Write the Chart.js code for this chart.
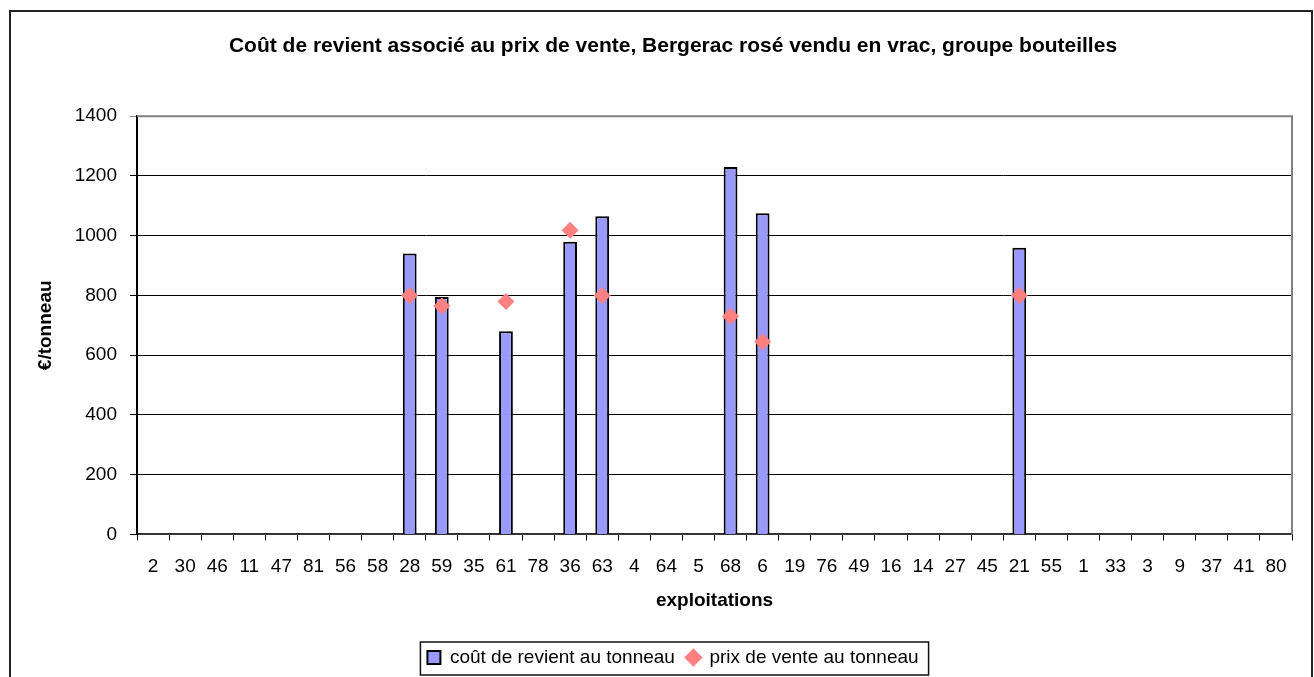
<!DOCTYPE html>
<html>
<head>
<meta charset="utf-8">
<script src="https://cdn.jsdelivr.net/npm/chart.js@4.4.1/dist/chart.umd.min.js"></script>
<style>
  html, body { margin: 0; padding: 0; background: #fff; }
  #wrap { width: 1314px; height: 677px; position: relative; }
</style>
</head>
<body>
<div id="wrap"><canvas id="c" width="1314" height="677"></canvas></div>
<script>
"use strict";
// Bergerac rosé en vrac: cost price vs selling price per tonneau, by farm.

const exploitations = ["2", "30", "46", "11", "47", "81", "56", "58", "28", "59", "35", "61", "78", "36", "63", "4", "64", "5",
  "68", "6", "19", "76", "49", "16", "14", "27", "45", "21", "55", "1", "33", "3", "9", "37", "41", "80"];

// null = no value for that farm
const coutRevient = [null, null, null, null, null, null, null, null, 940, 795, null, 680, null, 980, 1065, null, null, null,
  1230, 1075, null, null, null, null, null, null, null, 960, null, null, null, null, null, null, null, null];
const prixVente = [null, null, null, null, null, null, null, null, 800, 765, null, 780, null, 1018, 800, null, null, null,
  730, 645, null, null, null, null, null, null, null, 800, null, null, null, null, null, null, null, null];

const yTicks = [0, 200, 400, 600, 800, 1000, 1200, 1400];

const FONT = "'Liberation Sans', Arial, Helvetica, sans-serif";

// outer frame + grey top/right plot border + box round the legend
const frame = {
  id: "frame",
  afterDraw(chart) {
    const { ctx, chartArea: a } = chart;
    ctx.save();
    ctx.strokeStyle = "#808080";
    ctx.lineWidth = 2;
    ctx.beginPath();
    ctx.moveTo(a.left, a.top); ctx.lineTo(a.right, a.top); ctx.lineTo(a.right, a.bottom);
    ctx.stroke();
    ctx.strokeStyle = "#222";
    ctx.lineWidth = 2;
    ctx.strokeRect(10, 11, 1302, 700);
    const hb = chart.legend.legendHitBoxes;
    if (hb && hb.length) {
      const l = Math.min(...hb.map(h => h.left)) - 7;
      const r = Math.max(...hb.map(h => h.left + h.width)) + 10;
      const t = Math.min(...hb.map(h => h.top)) - 6;
      const b = Math.max(...hb.map(h => h.top + h.height)) + 8;
      ctx.strokeStyle = "#111";
      ctx.lineWidth = 1.5;
      ctx.strokeRect(l, t, r - l, b - t);
    }
    ctx.restore();
  },
};

new Chart(document.getElementById("c"), {
  data: {
    labels: exploitations,
    datasets: [
      {
        type: "bar", label: "coût de revient au tonneau", data: coutRevient,
        backgroundColor: "#9999FF", borderColor: "#000", borderWidth: 2,
        barPercentage: 0.43, categoryPercentage: 1, order: 2,
      },
      {
        type: "line", label: "prix de vente au tonneau", data: prixVente,
        showLine: false, pointStyle: "rectRot", pointRadius: 8.5,
        backgroundColor: "#FF8080", borderColor: "#FF8080", borderWidth: 0, order: 1,
      },
    ],
  },
  options: {
    responsive: false, animation: false,
    layout: { padding: { left: 54, right: 22, top: 0, bottom: 0 } },
    scales: {
      x: {
        offset: true,
        grid: { offset: true, drawOnChartArea: false, drawTicks: true, tickLength: 6, color: "#000" },
        border: { color: "#333", width: 2 },
        ticks: { color: "#000", font: { family: FONT, size: 19 }, padding: 15, maxRotation: 0, autoSkip: false },
        title: { display: true, text: "exploitations", color: "#000", font: { family: FONT, size: 19, weight: "bold" }, padding: { top: -4, bottom: 24 } },
      },
      y: {
        min: 0, max: 1400,
        afterBuildTicks: (s) => { s.ticks = yTicks.map(v => ({ value: v })); },
        afterFit: (s) => { s.width = 83; },
        grid: { color: (c) => c.tick.value === 1400 ? "#808080" : "#000", lineWidth: 1, tickLength: 7 },
        border: { color: "#000", width: 2 },
        ticks: { color: "#000", font: { family: FONT, size: 19 }, padding: 13, callback: (v) => String(v) },
        title: { display: true, text: "€/tonneau", color: "#000", font: { family: FONT, size: 19, weight: "bold" }, padding: { top: -20, bottom: 0 } },
      },
    },
    plugins: {
      title: {
        display: true,
        text: "Coût de revient associé au prix de vente, Bergerac rosé vendu en vrac, groupe bouteilles",
        color: "#000", font: { family: FONT, size: 21, weight: "bold" },
        padding: { top: 34, bottom: 57 },
      },
      legend: {
        position: "bottom",
        labels: {
          usePointStyle: true, color: "#000", font: { family: FONT, size: 19 },
          boxWidth: 13, boxHeight: 13, padding: 12,
          sort: (a, b) => a.datasetIndex - b.datasetIndex,
          generateLabels: (chart) => {
            const items = Chart.defaults.plugins.legend.labels.generateLabels(chart);
            for (const it of items) {
              if (it.datasetIndex === 0) {
                it.pointStyle = "rect"; it.lineWidth = 2; it.strokeStyle = "#000"; it.fillStyle = "#9999FF";
              } else {
                it.pointStyle = "rect"; it.rotation = 45; it.lineWidth = 0; it.strokeStyle = "#FF8080";
              }
            }
            return items;
          },
        },
      },
      tooltip: { enabled: false },
    },
  },
  plugins: [frame],
});
</script>
</body>
</html>
